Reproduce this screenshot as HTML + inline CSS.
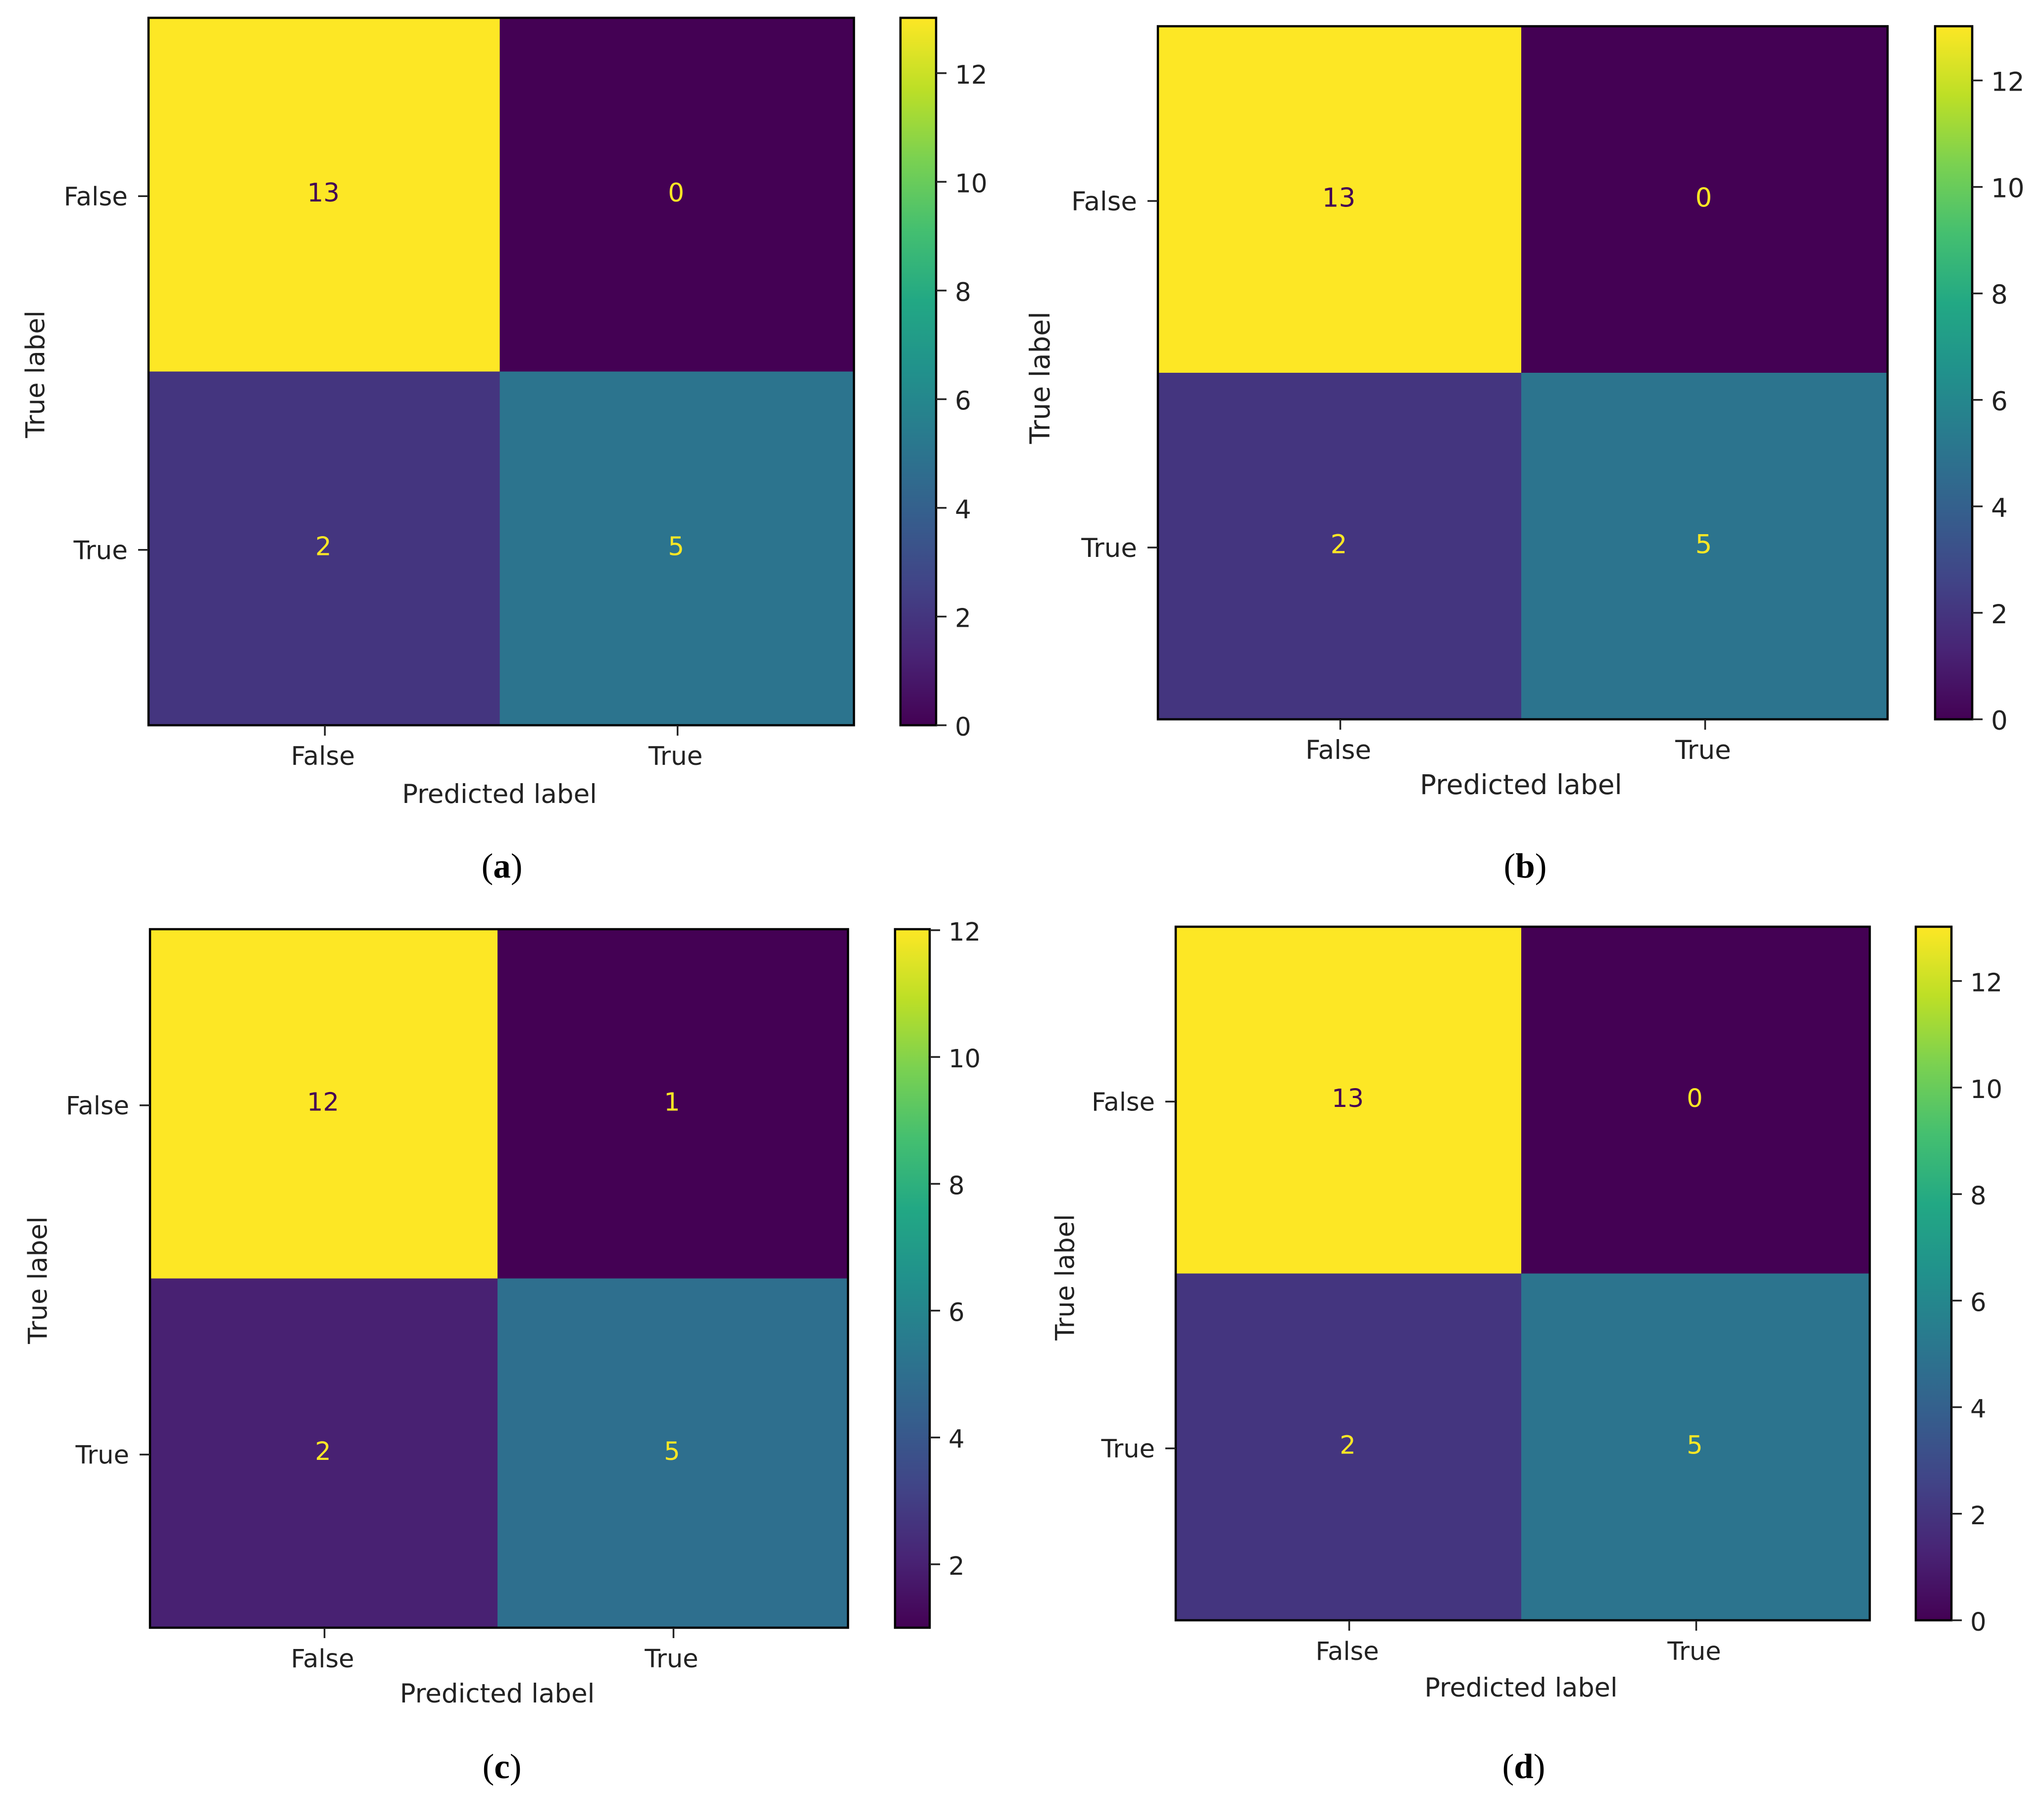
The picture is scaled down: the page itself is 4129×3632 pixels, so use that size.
<!DOCTYPE html>
<html lang="en">
<head>
<meta charset="utf-8">
<title>Confusion matrices (a) to (d)</title>
<style>
  html, body { margin: 0; padding: 0; background: #fff; }
  svg { display: block; }
  text { font-family: "DejaVu Sans", "Liberation Sans", sans-serif; fill: #222; }
  .caption { font-family: "Liberation Serif", serif; fill: #000; font-size: 71px; }
</style>
</head>
<body>
<svg id="figure" xmlns="http://www.w3.org/2000/svg" width="4129" height="3632" viewBox="0 0 4129 3632">
  <rect width="4129" height="3632" fill="#fff"/>
  <defs id="defs"></defs>
  <g id="panel-a"></g>
  <g id="panel-b"></g>
  <g id="panel-c"></g>
  <g id="panel-d"></g>
</svg>
<script>
// ---- data ----
const classLabels = ['False', 'True'];
const countsA = [[13, 0], [2, 5]];
const countsB = [[13, 0], [2, 5]];
const countsC = [[12, 1], [2, 5]];
const countsD = [[13, 0], [2, 5]];
const colorbarTicksA = [0, 2, 4, 6, 8, 10, 12];
const colorbarTicksB = [0, 2, 4, 6, 8, 10, 12];
const colorbarTicksC = [2, 4, 6, 8, 10, 12];
const colorbarTicksD = [0, 2, 4, 6, 8, 10, 12];
const xAxisTitle = 'Predicted label';
const yAxisTitle = 'True label';

// ---- colormap ----
const viridisStops = ['#440154', '#482475', '#414487', '#355f8d', '#2a788e', '#21918c', '#22a884', '#44bf70', '#7ad151', '#bddf26', '#fde725'];
function hexToRgb(h) {
  return [1, 3, 5].map(function (i) { return parseInt(h.slice(i, i + 2), 16); });
}
function viridis(t) {
  const c = Math.max(0, Math.min(1, t)) * (viridisStops.length - 1);
  const i = Math.min(Math.floor(c), viridisStops.length - 2);
  const f = c - i;
  const a = hexToRgb(viridisStops[i]);
  const b = hexToRgb(viridisStops[i + 1]);
  return 'rgb(' + a.map(function (v, k) { return Math.round(v + (b[k] - v) * f); }).join(',') + ')';
}

// ---- layout (panel geometry only) ----
const layouts = [
  { id: 'a', counts: countsA, ticks: colorbarTicksA, l: 300, r: 1725, t: 36, b: 1465, cl: 1819, cr: 1891, font: 51.5, titleFont: 53, xTitleOff: 157, yTitleX: 71, yTitleY: 756, capX: 1014, capY: 1773 },
  { id: 'b', counts: countsB, ticks: colorbarTicksB, l: 2339, r: 3813, t: 53, b: 1453, cl: 3909, cr: 3984, font: 53, titleFont: 55, xTitleOff: 151, yTitleX: 2101, yTitleY: 763, capX: 3081, capY: 1773 },
  { id: 'c', counts: countsC, ticks: colorbarTicksC, l: 303, r: 1713, t: 1877, b: 3288, cl: 1808, cr: 1878, font: 51, titleFont: 53, xTitleOff: 151, yTitleX: 76, yTitleY: 2586, capX: 1014, capY: 3592 },
  { id: 'd', counts: countsD, ticks: colorbarTicksD, l: 2375, r: 3777, t: 1872, b: 3273, cl: 3870, cr: 3942, font: 51, titleFont: 52.5, xTitleOff: 154, yTitleX: 2151, yTitleY: 2580, capX: 3078, capY: 3592 }
];

const NS = 'http://www.w3.org/2000/svg';
function make(tag, attrs, parent, content) {
  const node = document.createElementNS(NS, tag);
  Object.keys(attrs).forEach(function (k) { node.setAttribute(k, attrs[k]); });
  if (content !== undefined) node.textContent = content;
  parent.appendChild(node);
  return node;
}

// shared colorbar gradient (top = max, bottom = min)
const gradient = make('linearGradient', { id: 'viridis-gradient', x1: 0, y1: 1, x2: 0, y2: 0 }, document.getElementById('defs'));
viridisStops.forEach(function (color, i) {
  make('stop', { offset: i / (viridisStops.length - 1), 'stop-color': color }, gradient);
});

const TICK = 21, SPINE = 4.5, TICKW = 3.5, SPLIT_SHIFT = -3, TEXT_SHIFT = -3, CB_INSET = 2;

layouts.forEach(function (p) {
  const g = document.getElementById('panel-' + p.id);
  const all = p.counts.flat();
  const vmin = Math.min.apply(null, all);
  const vmax = Math.max.apply(null, all);
  const thresh = (vmin + vmax) / 2;
  const colorOf = function (v) { return viridis((v - vmin) / (vmax - vmin)); };

  const n = classLabels.length;
  const bandW = (p.r - p.l) / n;
  const bandH = (p.b - p.t) / n;
  const xEdge = function (i) { return p.l + i * bandW + (i > 0 && i < n ? SPLIT_SHIFT : 0); };
  const xCenter = function (i) { return p.l + (i + 0.5) * bandW; };
  const yCenter = function (i) { return p.t + (i + 0.5) * bandH; };
  const colorbarY = function (v) { return p.b - (v - vmin) / (vmax - vmin) * (p.b - p.t - CB_INSET); };
  const fs = p.font;

  // heatmap cells and counts
  p.counts.forEach(function (row, ri) {
    row.forEach(function (value, ci) {
      const cell = make('rect', { x: xEdge(ci), y: p.t + ri * bandH, width: xEdge(ci + 1) - xEdge(ci), height: bandH, fill: colorOf(value) }, g);
      
      
    });
  });
  p.counts.forEach(function (row, ri) {
    row.forEach(function (value, ci) {
      const label = make('text', {
        x: xCenter(ci) + TEXT_SHIFT, y: yCenter(ri) + fs * 0.27, 'text-anchor': 'middle', 'font-size': fs,
        style: 'fill:' + (value < thresh ? viridis(1) : viridis(0))
      }, g, String(value));
      
      
    });
  });

  // plot frame
  const frame = make('rect', { x: p.l, y: p.t, width: p.r - p.l, height: p.b - p.t, fill: 'none', stroke: '#000', 'stroke-width': SPINE }, g);
  
  

  // category ticks
  classLabels.forEach(function (name, i) {
    const xt = make('line', { x1: xCenter(i), x2: xCenter(i), y1: p.b, y2: p.b + TICK, stroke: '#222', 'stroke-width': TICKW }, g);
    
    
    const xl = make('text', { x: xCenter(i) + TEXT_SHIFT - 1, y: p.b + 80, 'text-anchor': 'middle', 'font-size': fs }, g, name);
    
    
    const yt = make('line', { x1: p.l - TICK, x2: p.l, y1: yCenter(i) + 3, y2: yCenter(i) + 3, stroke: '#222', 'stroke-width': TICKW }, g);
    
    
    const yl = make('text', { x: p.l - 42, y: yCenter(i) + 3 + fs * 0.36, 'text-anchor': 'end', 'font-size': fs }, g, name);
    
    
  });

  // axis titles
  const xTitle = make('text', { x: (p.l + p.r) / 2 - 3.5, y: p.b + p.xTitleOff, 'text-anchor': 'middle', 'font-size': p.titleFont }, g, xAxisTitle);
  
  
  const yTitle = make('text', {
    x: 0, y: 0, 'text-anchor': 'middle', 'font-size': p.titleFont,
    transform: 'translate(' + (p.yTitleX + fs * 0.36) + ' ' + p.yTitleY + ') rotate(-90)'
  }, g, yAxisTitle);
  
  

  // colorbar
  const bar = make('rect', { x: p.cl, y: p.t, width: p.cr - p.cl, height: p.b - p.t, fill: 'url(#viridis-gradient)', stroke: '#000', 'stroke-width': SPINE }, g);
  
  
  p.ticks.forEach(function (v) {
    const ct = make('line', { x1: p.cr, x2: p.cr + TICK, y1: colorbarY(v), y2: colorbarY(v), stroke: '#222', 'stroke-width': TICKW }, g);
    
    
    const cl = make('text', { x: p.cr + 38, y: colorbarY(v) + 21, 'font-size': fs }, g, String(v));
    
    
  });

  // caption
  const cap = make('text', { x: p.capX, y: p.capY, 'text-anchor': 'middle', class: 'caption' }, g);
  
  
  cap.appendChild(document.createTextNode('('));
  const letter = make('tspan', { 'font-weight': 'bold', style: 'fill:#000;font-family:"Liberation Serif",serif' }, cap, p.id);
  
  
  cap.appendChild(document.createTextNode(')'));
});
</script>
</body>
</html>
